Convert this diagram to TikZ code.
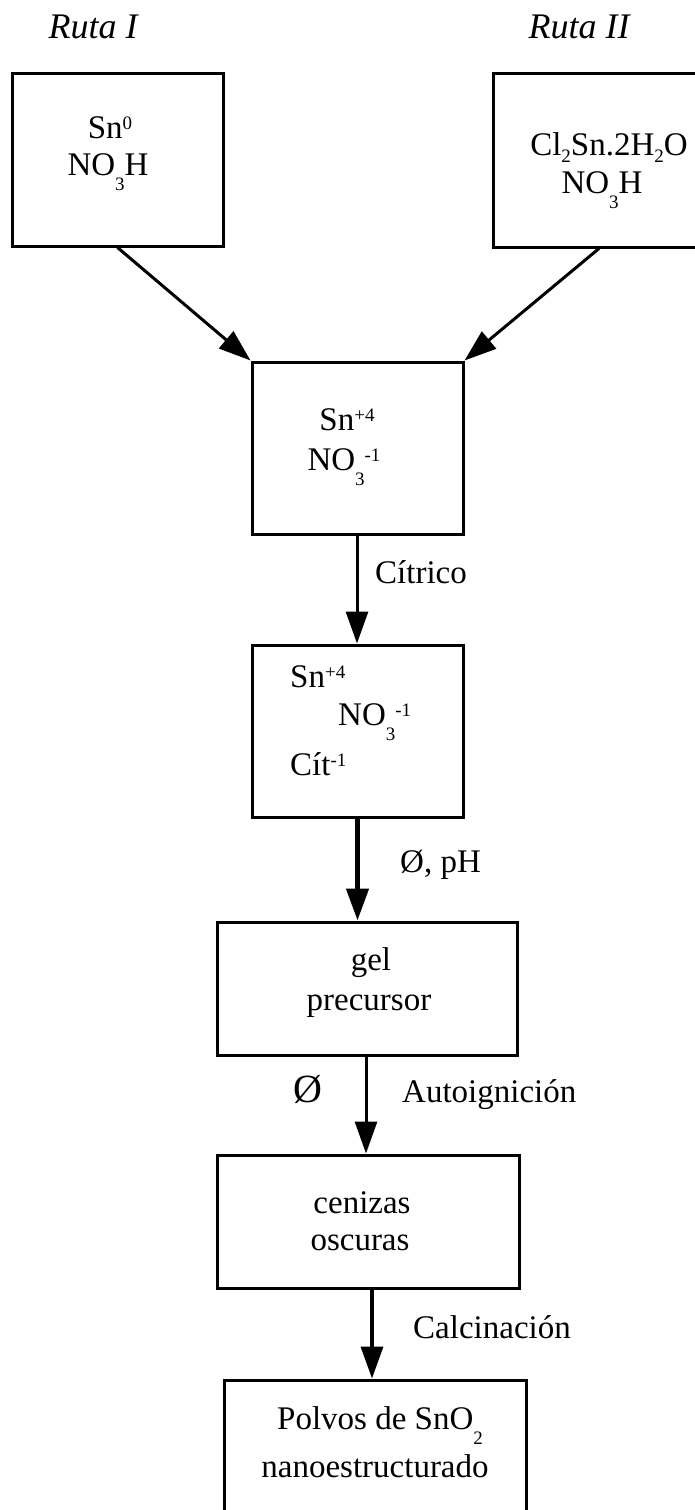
\documentclass[tikz,border=0pt]{standalone}
\usepackage{fontspec}
\setmainfont{Liberation Serif}
\usetikzlibrary{arrows.meta,calc}
% chemical sub- and superscripts (optional argument: how far down)
\newcommand\chsub[2][15pt]{\raisebox{-#1}{\fontsize{19}{19}\selectfont #2}}
\newcommand\chsup[1]{\raisebox{9pt}{\fontsize{19}{19}\selectfont #1}}
\begin{document}
\begin{tikzpicture}[x=1pt,y=-1pt,
  box/.style={draw, line width=3pt, rectangle, inner sep=0pt},
  txt/.style={inner sep=0pt, anchor=base, font=\fontsize{33}{40}\selectfont},
  ltxt/.style={txt, anchor=base west},
  route/.style={txt, font=\fontsize{36}{42}\selectfont\itshape},
  flow/.style={line width=3pt, -{Triangle[length=32pt,width=22pt]}}]
\useasboundingbox (0,0) rectangle (694,1510);

% route headings
\node[route] (r1) at (93,38) {Ruta I};
\node[route] (r2) at (579,38) {Ruta II};

% starting materials
\node[box, minimum width=211pt, minimum height=173pt] (b1) at (117.5,159.5) {};
\node[txt] (b1a) at (110,138) {Sn\chsup{0}};
\node[txt] (b1b) at (108,175) {NO\chsub{3}H};

\node[box, minimum width=212pt, minimum height=174pt] (b2) at (599,160) {};
\node[txt] (b2a) at (609,155) {Cl\chsub[7pt]{2}Sn.2H\chsub[7pt]{2}O};
\node[txt] (b2b) at (602,193) {NO\chsub{3}H};

% nitrate solution
\node[box, minimum width=211pt, minimum height=172pt] (b3) at (357.5,448) {};
\node[txt] (b3a) at (347,430) {Sn\chsup{+4}};
\node[txt] (b3b) at (344,470) {NO\chsub{3}\chsup{-1}};

% citrate solution
\node[box, minimum width=211pt, minimum height=172pt] (b4) at (357.5,731) {};
\node[ltxt] (b4a) at (290,687) {Sn\chsup{+4}};
\node[ltxt] (b4b) at (338,725) {NO\chsub{3}\chsup{-1}};
\node[ltxt] (b4c) at (290,775) {Cít\chsup{-1}};

% gel
\node[box, minimum width=300pt, minimum height=133pt] (b5) at (367,988.5) {};
\node[txt] (b5a) at (371,970) {gel};
\node[txt] (b5b) at (369,1010) {precursor};

% ashes
\node[box, minimum width=302pt, minimum height=133pt] (b6) at (368,1221.5) {};
\node[txt] (b6a) at (362,1213) {cenizas};
\node[txt] (b6b) at (360,1250) {oscuras};

% final powder
\node[box, minimum width=302pt, minimum height=150pt] (b7) at (375,1455) {};
\node[txt] (b7a) at (380,1429) {Polvos de SnO\chsub{2}};
\node[txt] (b7b) at (375,1477) {nanoestructurado};

% step labels
\node[ltxt] (l1) at (375,583) {Cítrico};
\node[ltxt] (l2) at (400,872) {Ø, pH};
\node[txt, font=\fontsize{40}{46}\selectfont] (l3) at (308,1102) {Ø};
\node[ltxt] (l4) at (402,1102) {Autoignición};
\node[ltxt] (l5) at (413,1338) {Calcinación};

% connectors
\draw[flow] (b1.south) -- (b3.north west);
\draw[flow] (b2.south) -- (b3.north east);
\draw[flow] ([xshift=-0.5pt]b3.south) -- ([xshift=-0.5pt]b4.north);
\draw[flow, line width=4.5pt] (b4.south) -- (b4.south |- b5.north);
\draw[flow] ([xshift=-1pt]b5.south) -- ([xshift=-1pt]b5.south |- b6.north);
\draw[flow, line width=3.5pt] ([xshift=4pt]b6.south) -- ([xshift=4pt]b6.south |- b7.north);
\end{tikzpicture}
\end{document}
